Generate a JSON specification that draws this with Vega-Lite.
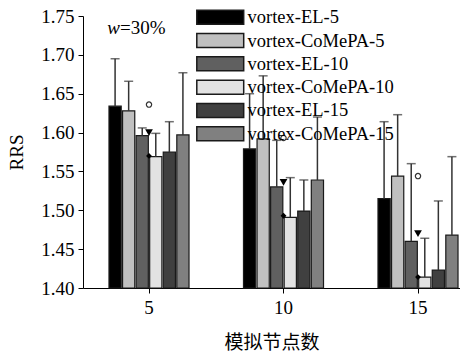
{
  "$schema": "https://vega.github.io/schema/vega-lite/v6.json",
  "autosize": {"type": "none"},
  "padding": {"left": 83, "top": 16, "right": 0, "bottom": 69},
  "width": 377,
  "height": 272,
  "background": "white",
  "config": {
    "view": {"stroke": null},
    "font": "Liberation Serif",
    "axis": {"grid": false, "domainColor": "black", "tickColor": "black", "labelColor": "black", "titleColor": "black", "labelFont": "Liberation Serif", "labelFontSize": 19, "titleFontSize": 19, "titleFontWeight": "normal", "tickSize": 5, "domainWidth": 1, "tickWidth": 1}
  },
  "datasets": {
    "bars": [
      {"group": "5", "series": "vortex-EL-5", "value": 1.634, "upper": 1.695},
      {"group": "5", "series": "vortex-CoMePA-5", "value": 1.628, "upper": 1.666},
      {"group": "5", "series": "vortex-EL-10", "value": 1.596, "upper": 1.606},
      {"group": "5", "series": "vortex-CoMePA-10", "value": 1.569, "upper": 1.599},
      {"group": "5", "series": "vortex-EL-15", "value": 1.575, "upper": 1.614},
      {"group": "5", "series": "vortex-CoMePA-15", "value": 1.597, "upper": 1.677},
      {"group": "10", "series": "vortex-EL-5", "value": 1.579, "upper": 1.650},
      {"group": "10", "series": "vortex-CoMePA-5", "value": 1.592, "upper": 1.673},
      {"group": "10", "series": "vortex-EL-10", "value": 1.530, "upper": 1.590},
      {"group": "10", "series": "vortex-CoMePA-10", "value": 1.491, "upper": 1.542},
      {"group": "10", "series": "vortex-EL-15", "value": 1.499, "upper": 1.539},
      {"group": "10", "series": "vortex-CoMePA-15", "value": 1.539, "upper": 1.620},
      {"group": "15", "series": "vortex-EL-5", "value": 1.515, "upper": 1.614},
      {"group": "15", "series": "vortex-CoMePA-5", "value": 1.544, "upper": 1.623},
      {"group": "15", "series": "vortex-EL-10", "value": 1.460, "upper": 1.560},
      {"group": "15", "series": "vortex-CoMePA-10", "value": 1.414, "upper": 1.464},
      {"group": "15", "series": "vortex-EL-15", "value": 1.423, "upper": 1.512},
      {"group": "15", "series": "vortex-CoMePA-15", "value": 1.468, "upper": 1.569}
    ],
    "markers": [
      {"group": "5", "marker": "open", "value": 1.636},
      {"group": "10", "marker": "open", "value": 1.593},
      {"group": "15", "marker": "open", "value": 1.544},
      {"group": "5", "marker": "tri", "value": 1.600},
      {"group": "10", "marker": "tri", "value": 1.536},
      {"group": "15", "marker": "tri", "value": 1.470},
      {"group": "5", "marker": "dot", "value": 1.570},
      {"group": "10", "marker": "dot", "value": 1.493},
      {"group": "15", "marker": "dot", "value": 1.414}
    ],
    "notes": [
      {"t": "w", "u": "=30%"}
    ]
  },
  "layer": [
    {
      "data": {"name": "bars"},
      "mark": {"type": "bar", "stroke": "#1a1a1a", "strokeWidth": 1.2},
      "encoding": {
        "x": {
          "field": "group", "type": "nominal",
          "scale": {"domain": ["5", "10", "15"], "paddingInner": 0.405, "paddingOuter": 0.104, "align": 0.929},
          "axis": {"title": "模拟节点数", "titleFont": "Noto Sans CJK SC", "titleFontSize": 19, "labelAngle": 0, "labelPadding": 5, "titlePadding": 16}
        },
        "y": {
          "field": "value", "type": "quantitative",
          "scale": {"domain": [1.40, 1.75], "zero": false, "nice": false},
          "axis": {"title": "RRS", "values": [1.40, 1.45, 1.50, 1.55, 1.60, 1.65, 1.70, 1.75], "format": ".2f", "labelPadding": 4, "titlePadding": 14}
        },
        "xOffset": {"field": "series", "type": "nominal", "scale": {"domain": ["vortex-EL-5", "vortex-CoMePA-5", "vortex-EL-10", "vortex-CoMePA-10", "vortex-EL-15", "vortex-CoMePA-15"], "paddingInner": 0.1, "paddingOuter": 0}},
        "y2": {"datum": 1.40},
        "fill": {
          "field": "series", "type": "nominal",
          "scale": {"domain": ["vortex-EL-5", "vortex-CoMePA-5", "vortex-EL-10", "vortex-CoMePA-10", "vortex-EL-15", "vortex-CoMePA-15"], "range": ["#000000", "#c0c0c0", "#606060", "#e2e2e2", "#404040", "#808080"]},
          "legend": {
            "title": null, "orient": "none", "legendX": 128, "legendY": -8,
            "symbolType": "M-3.35,-1H3.35V1H-3.35Z", "symbolSize": 196,
            "symbolStrokeColor": "#1a1a1a", "symbolStrokeWidth": 1.5, "symbolOpacity": 1,
            "labelFont": "Liberation Serif", "labelFontSize": 18.5, "labelColor": "black", "labelOffset": 18, "labelLimit": 300,
            "rowPadding": 2.3, "padding": 0
          }
        }
      }
    },
    {
      "data": {"name": "bars"},
      "mark": {"type": "rule", "color": "#333333", "strokeWidth": 1.5},
      "encoding": {
        "x": {"field": "group", "type": "nominal"},
        "xOffset": {"field": "series", "type": "nominal"},
        "y": {"field": "value", "type": "quantitative", "axis": {"title": "RRS", "values": [1.40, 1.45, 1.50, 1.55, 1.60, 1.65, 1.70, 1.75], "format": ".2f", "labelPadding": 4, "titlePadding": 14}},
        "y2": {"field": "upper"}
      }
    },
    {
      "data": {"name": "bars"},
      "mark": {"type": "tick", "color": "#333333", "thickness": 1.5, "size": 9, "orient": "horizontal"},
      "encoding": {
        "x": {"field": "group", "type": "nominal"},
        "xOffset": {"field": "series", "type": "nominal"},
        "y": {"field": "upper", "type": "quantitative", "axis": {"title": "RRS", "values": [1.40, 1.45, 1.50, 1.55, 1.60, 1.65, 1.70, 1.75], "format": ".2f", "labelPadding": 4, "titlePadding": 14}}
      }
    },
    {
      "data": {"name": "markers"},
      "transform": [{"filter": "datum.marker === 'open'"}],
      "mark": {"type": "point", "shape": "circle", "filled": false, "stroke": "#333333", "strokeWidth": 1.2, "fill": "white", "size": 28, "opacity": 1},
      "encoding": {"x": {"field": "group", "type": "nominal"}, "y": {"field": "value", "type": "quantitative", "axis": {"title": "RRS", "values": [1.40, 1.45, 1.50, 1.55, 1.60, 1.65, 1.70, 1.75], "format": ".2f", "labelPadding": 4, "titlePadding": 14}}}
    },
    {
      "data": {"name": "markers"},
      "transform": [{"filter": "datum.marker === 'tri'"}],
      "mark": {"type": "point", "shape": "triangle-down", "filled": true, "color": "black", "size": 60, "opacity": 1},
      "encoding": {"x": {"field": "group", "type": "nominal"}, "y": {"field": "value", "type": "quantitative", "axis": {"title": "RRS", "values": [1.40, 1.45, 1.50, 1.55, 1.60, 1.65, 1.70, 1.75], "format": ".2f", "labelPadding": 4, "titlePadding": 14}}}
    },
    {
      "data": {"name": "markers"},
      "transform": [{"filter": "datum.marker === 'dot'"}],
      "mark": {"type": "point", "shape": "diamond", "filled": true, "color": "black", "size": 35, "opacity": 1},
      "encoding": {"x": {"field": "group", "type": "nominal"}, "y": {"field": "value", "type": "quantitative", "axis": {"title": "RRS", "values": [1.40, 1.45, 1.50, 1.55, 1.60, 1.65, 1.70, 1.75], "format": ".2f", "labelPadding": 4, "titlePadding": 14}}}
    },
    {
      "data": {"name": "notes"},
      "mark": {"type": "text", "font": "Liberation Serif", "fontStyle": "italic", "fontSize": 19, "align": "right", "baseline": "middle", "dx": -29, "color": "black"},
      "encoding": {
        "x": {"datum": "5", "type": "nominal"},
        "y": {"datum": 1.735, "type": "quantitative", "axis": {"title": "RRS", "values": [1.40, 1.45, 1.50, 1.55, 1.60, 1.65, 1.70, 1.75], "format": ".2f", "labelPadding": 4, "titlePadding": 14}},
        "text": {"field": "t", "type": "nominal"}
      }
    },
    {
      "data": {"name": "notes"},
      "mark": {"type": "text", "font": "Liberation Serif", "fontSize": 19, "align": "left", "baseline": "middle", "dx": -29, "color": "black"},
      "encoding": {
        "x": {"datum": "5", "type": "nominal"},
        "y": {"datum": 1.735, "type": "quantitative", "axis": {"title": "RRS", "values": [1.40, 1.45, 1.50, 1.55, 1.60, 1.65, 1.70, 1.75], "format": ".2f", "labelPadding": 4, "titlePadding": 14}},
        "text": {"field": "u", "type": "nominal"}
      }
    }
  ]
}
